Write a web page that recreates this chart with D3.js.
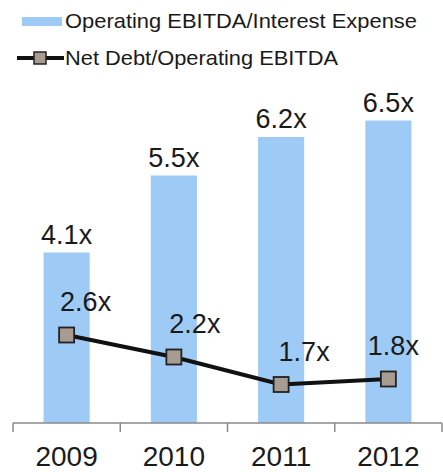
<!DOCTYPE html>
<html>
<head>
<meta charset="utf-8">
<script src="https://cdn.jsdelivr.net/npm/d3@7"></script>
<style>
  html, body { margin: 0; padding: 0; background: #fff; }
  svg { display: block; font-family: "Liberation Sans", Arial, Helvetica, sans-serif; }
</style>
</head>
<body>
<svg id="chart" width="443" height="472"></svg>
<script>
// Coverage and leverage ratios by year
const years = ["2009", "2010", "2011", "2012"];
const ebitdaInterest = [4.1, 5.5, 6.2, 6.5];   // Operating EBITDA / Interest Expense
const netDebtEbitda = [2.6, 2.2, 1.7, 1.8];    // Net Debt / Operating EBITDA
const seriesNames = ["Operating EBITDA/Interest Expense", "Net Debt/Operating EBITDA"];

const barColor = "#9ecbf6";
const markerFill = "#a89c92";
const inkColor = "#1a1a1a";

const svg = d3.select("#chart");

const x = d3.scaleBand()
  .domain(years)
  .range([13, 442])
  .paddingInner(0.57)
  .paddingOuter(0.285);

const y = d3.scaleLinear()
  .domain([1, 7])
  .range([423, 93]);

const fmt = v => d3.format(".1f")(v) + "x";

// Bars
svg.append("g").selectAll("rect")
  .data(years)
  .join("rect")
  .attr("x", d => x(d))
  .attr("width", x.bandwidth())
  .attr("y", (d, i) => y(ebitdaInterest[i]))
  .attr("height", (d, i) => y(1) - y(ebitdaInterest[i]))
  .attr("fill", barColor);

// Bar value labels
svg.append("g").selectAll("text")
  .data(years)
  .join("text")
  .attr("x", d => x(d) + x.bandwidth() / 2)
  .attr("y", (d, i) => y(ebitdaInterest[i]) - 9)
  .attr("text-anchor", "middle")
  .attr("font-size", 27)
  .attr("fill", inkColor)
  .text((d, i) => fmt(ebitdaInterest[i]));

// Category axis: baseline with ticks at band boundaries
const axisG = svg.append("g").attr("transform", `translate(0,${y(1)})`);
const half = x.step() * x.paddingInner() / 2;
const bounds = years.map(d => x(d) - half).concat([x(years[years.length - 1]) + x.bandwidth() + half]);
axisG.append("line")
  .attr("x1", bounds[0]).attr("x2", bounds[bounds.length - 1])
  .attr("stroke", "#8a8a8a").attr("stroke-width", 1.5);
axisG.selectAll(".tick")
  .data(bounds)
  .join("line")
  .attr("class", "tick")
  .attr("x1", d => d).attr("x2", d => d)
  .attr("y1", 0).attr("y2", 9)
  .attr("stroke", "#8a8a8a").attr("stroke-width", 1.5);
axisG.selectAll(".year")
  .data(years)
  .join("text")
  .attr("class", "year")
  .attr("x", d => x(d) + x.bandwidth() / 2)
  .attr("y", 43)
  .attr("text-anchor", "middle")
  .attr("font-size", 28)
  .attr("fill", inkColor)
  .text(d => d);

// Line series
const cx = d => x(d) + x.bandwidth() / 2;
const line = d3.line()
  .x(d => cx(d))
  .y((d, i) => y(netDebtEbitda[i]));

svg.append("path")
  .datum(years)
  .attr("d", line)
  .attr("fill", "none")
  .attr("stroke", "#111")
  .attr("stroke-width", 4);

const mk = 15;
svg.append("g").selectAll("rect")
  .data(years)
  .join("rect")
  .attr("x", d => cx(d) - mk / 2)
  .attr("y", (d, i) => y(netDebtEbitda[i]) - mk / 2)
  .attr("width", mk).attr("height", mk)
  .attr("fill", markerFill)
  .attr("stroke", "#222")
  .attr("stroke-width", 1.8);

// Line value labels, nudged right of each marker
const lineLabelShift = [19, 21, 23, 5];
svg.append("g").selectAll("text")
  .data(years)
  .join("text")
  .attr("x", (d, i) => cx(d) + lineLabelShift[i])
  .attr("y", (d, i) => y(netDebtEbitda[i]) - 24)
  .attr("text-anchor", "middle")
  .attr("font-size", 27)
  .attr("fill", inkColor)
  .text((d, i) => fmt(netDebtEbitda[i]));

// Legend
const leg = svg.append("g");
leg.append("rect")
  .attr("x", 22).attr("y", 17).attr("width", 40).attr("height", 9)
  .attr("fill", barColor);
leg.append("text")
  .attr("x", 65).attr("y", 28)
  .attr("font-size", 21)
  .attr("textLength", 352)
  .attr("lengthAdjust", "spacingAndGlyphs")
  .attr("fill", inkColor)
  .text(seriesNames[0]);
leg.append("line")
  .attr("x1", 17).attr("x2", 64).attr("y1", 58).attr("y2", 58)
  .attr("stroke", "#111").attr("stroke-width", 4);
leg.append("rect")
  .attr("x", 34).attr("y", 52).attr("width", 12).attr("height", 12)
  .attr("fill", markerFill).attr("stroke", "#222").attr("stroke-width", 1.5);
leg.append("text")
  .attr("x", 65).attr("y", 65)
  .attr("font-size", 21)
  .attr("textLength", 273)
  .attr("lengthAdjust", "spacingAndGlyphs")
  .attr("fill", inkColor)
  .text(seriesNames[1]);
</script>
</body>
</html>
